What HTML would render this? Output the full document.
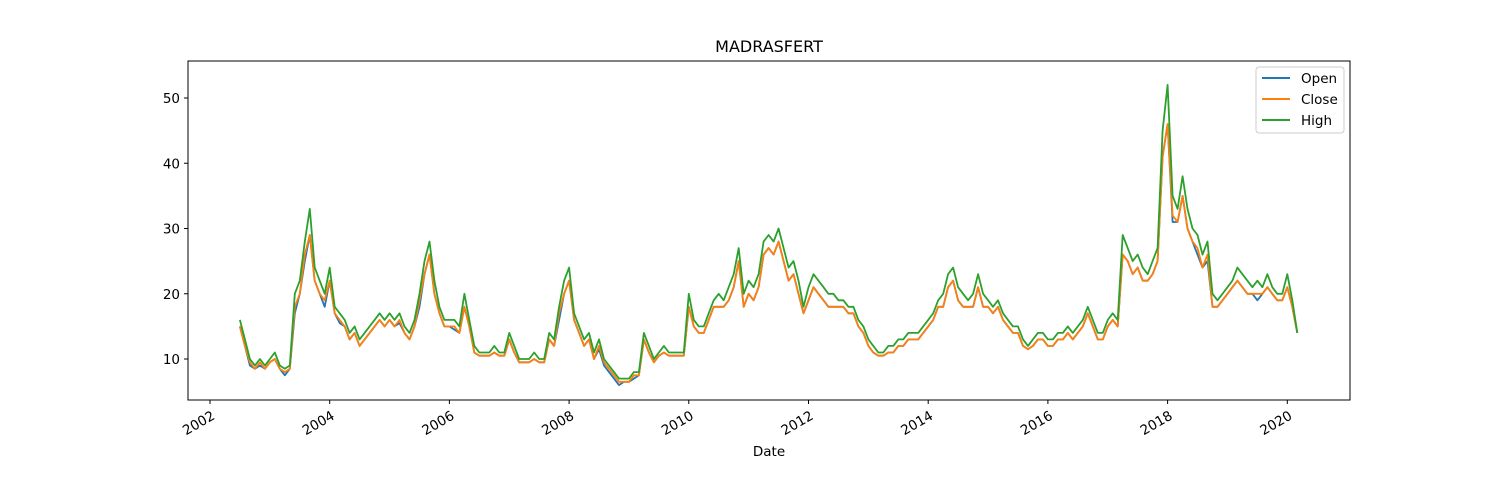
<!DOCTYPE html>
<html><head><meta charset="utf-8"><style>
body{margin:0;background:#fff;}
svg{display:block;font-family:"DejaVu Sans","Liberation Sans",sans-serif;}
</style></head><body>
<svg id="chart" width="1500" height="500">
<rect x="0" y="0" width="1500" height="500" fill="#fff"/>
<text x="769" y="52" font-size="16" text-anchor="middle">MADRASFERT</text>
<g id="plot"></g>
<rect x="188" y="61" width="1162" height="339" fill="none" stroke="#000" stroke-width="1"/>
<g id="axes"></g>
<text x="769" y="456" font-size="13.5" text-anchor="middle">Date</text>
<g>
<rect x="1256" y="67" width="88" height="66" rx="3" fill="#fff" fill-opacity="0.8" stroke="#ccc"/>
<g><line x1="1262" x2="1290" y1="78" y2="78" stroke="#1f77b4" stroke-width="2"/><text x="1301" y="83" font-size="13.5">Open</text></g>
<g><line x1="1262" x2="1290" y1="99" y2="99" stroke="#ff7f0e" stroke-width="2"/><text x="1301" y="104" font-size="13.5">Close</text></g>
<g><line x1="1262" x2="1290" y1="120" y2="120" stroke="#2ca02c" stroke-width="2"/><text x="1301" y="125" font-size="13.5">High</text></g>
</g>
</svg>
<script>
const startYear = 2002.5;
const xTicks = [2002,2004,2006,2008,2010,2012,2014,2016,2018,2020];
const yTicks = [10,20,30,40,50];
const highVals = [16,13,10,9,10,9,
10,11,9,8.5,9,20,22,28,33,24,22,20,
24,18,17,16,14,15,13,14,15,16,17,16,
17,16,17,15,14,16,20,25,28,22,18,16,
16,16,15,20,16,12,11,11,11,12,11,11,
14,12,10,10,10,11,10,10,14,13,18,22,
24,17,15,13,14,11,13,10,9,8,7,7,
7,8,8,14,12,10,11,12,11,11,11,11,
20,16,15,15,17,19,20,19,21,23,27,20,
22,21,23,28,29,28,30,27,24,25,22,18,
21,23,22,21,20,20,19,19,18,18,16,15,
13,12,11,11,12,12,13,13,14,14,14,15,
16,17,19,20,23,24,21,20,19,20,23,20,
19,18,19,17,16,15,15,13,12,13,14,14,
13,13,14,14,15,14,15,16,18,16,14,14,
16,17,16,29,27,25,26,24,23,25,27,45,
52,35,33,38,33,30,29,26,28,20,19,20,
21,22,24,23,22,21,22,21,23,21,20,20,
23,19,14];
const closeVals = [15,12,9.5,8.5,9.5,8.5,
9.5,10,8.5,8,8.5,18,20,26,29,22,20,19,
22,17,16,15,13,14,12,13,14,15,16,15,
16,15,16,14,13,15,19,23,26,20,17,15,
15,15,14,18,15,11,10.5,10.5,10.5,11,10.5,10.5,
13,11,9.5,9.5,9.5,10,9.5,9.5,13,12,17,20,
22,16,14,12,13,10,12,9.5,8.5,7.5,6.5,6.5,
6.5,7.5,7.5,13,11,9.5,10.5,11,10.5,10.5,10.5,10.5,
18,15,14,14,16,18,18,18,19,21,25,18,
20,19,21,26,27,26,28,25,22,23,20,17,
19,21,20,19,18,18,18,18,17,17,15,14,
12,11,10.5,10.5,11,11,12,12,13,13,13,14,
15,16,18,18,21,22,19,18,18,18,21,18,
18,17,18,16,15,14,14,12,11.5,12,13,13,
12,12,13,13,14,13,14,15,17,15,13,13,
15,16,15,26,25,23,24,22,22,23,25,41,
46,32,31,35,30,28,27,24,26,18,18,19,
20,21,22,21,20,20,20,20,21,20,19,19,
21,18,14];
const openVals = [15,12,9,8.5,9,8.5,
9.5,10,8.5,7.5,8.5,17,20,25,29,22,20,18,
22,17,15.5,15,13,14,12,13,14,15,16,15,
16,15,15.5,14,13,15,18,23,26,20,17,15,
15,14.5,14,18,15,11,10.5,10.5,10.5,11,10.5,10.5,
13,11,9.5,9.5,9.5,10,9.5,9.5,13,12,16,20,
22,16,14,12,13,10,11.5,9,8,7,6,6.5,
6.5,7,7.5,13,11,9.5,10.5,11,10.5,10.5,10.5,10.5,
18,15,14,14,16,18,18,18,19,21,25,18,
20,19,21,26,27,26,28,25,22,23,20,17,
19,21,20,19,18,18,18,18,17,17,15,14,
12,11,10.5,10.5,11,11,12,12,13,13,13,14,
15,16,18,18,21,22,19,18,18,18,21,18,
18,17,18,16,15,14,14,12,11.5,12,13,13,
12,12,13,13,14,13,14,15,17,15,13,13,
15,16,15,26,25,23,24,22,22,23,25,41,
46,31,31,35,30,28,26,24,25,18,18,19,
20,21,22,21,20,20,19,20,21,20,19,19,
21,18,14];

const NS = "http://www.w3.org/2000/svg";
function xScale(yr){ return 210 + (yr - 2002) * 59.85; }
function yScale(v){ return 359 - (v - 10) * 6.525; }
const plot = document.getElementById('plot');
const axes = document.getElementById('axes');

function drawSeries(vals, color, name){
  const p = document.createElementNS(NS,'path');
  let d = '';
  vals.forEach((v,i)=>{ const t = startYear + i/12; d += (i?'L':'M') + xScale(t).toFixed(1) + ',' + yScale(v).toFixed(1); });
  p.setAttribute('d', d);
  p.setAttribute('fill','none');
  p.setAttribute('stroke', color);
  p.setAttribute('stroke-width','1.8');
  p.setAttribute('stroke-linejoin','round');
  
  
  plot.appendChild(p);
}
drawSeries(openVals,'#1f77b4','open-line');
drawSeries(closeVals,'#ff7f0e','close-line');
drawSeries(highVals,'#2ca02c','high-line');

xTicks.forEach(y=>{
  const x = xScale(y);
  const l = document.createElementNS(NS,'line');
  l.setAttribute('x1',x); l.setAttribute('x2',x); l.setAttribute('y1',400); l.setAttribute('y2',404);
  l.setAttribute('stroke','#000');
  
  
  axes.appendChild(l);
  const t = document.createElementNS(NS,'text');
  const tx = x + 1, ty = 410;
  t.setAttribute('x',tx); t.setAttribute('y',ty);
  t.setAttribute('font-size','13.5');
  t.setAttribute('text-anchor','end');
  t.setAttribute('transform','rotate(-30 '+tx+' '+ty+')');
  t.setAttribute('dominant-baseline','hanging');
  t.textContent = y;
  
  
  axes.appendChild(t);
});
yTicks.forEach(v=>{
  const y = yScale(v);
  const l = document.createElementNS(NS,'line');
  l.setAttribute('x1',184); l.setAttribute('x2',188); l.setAttribute('y1',y); l.setAttribute('y2',y);
  l.setAttribute('stroke','#000');
  
  
  axes.appendChild(l);
  const t = document.createElementNS(NS,'text');
  t.setAttribute('x',180); t.setAttribute('y',y+5);
  t.setAttribute('font-size','13.5');
  t.setAttribute('text-anchor','end');
  t.textContent = v;
  
  
  axes.appendChild(t);
});
</script>
</body></html>
